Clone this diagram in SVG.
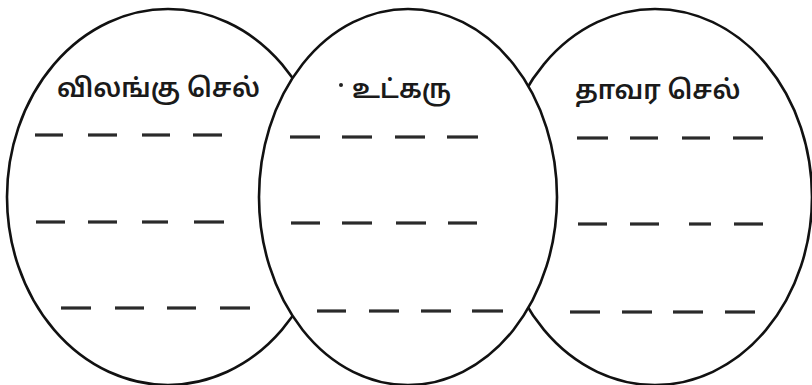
<svg xmlns="http://www.w3.org/2000/svg" width="812" height="385" viewBox="0 0 812 385">
<style>
.ell{fill:#fff;stroke:#111;stroke-width:2.6}
.lbl{font-family:"Noto Sans Tamil","Lohit Tamil","Noto Sans","DejaVu Sans",sans-serif;font-size:26px;font-weight:600;fill:#1a1a1a}
.dash{stroke:#2a2a2a;stroke-width:3.2;stroke-linecap:butt}
</style>
<rect width="812" height="385" fill="#fff"/>
<g id="animal-cell">
<ellipse class="ell" cx="168" cy="197" rx="161" ry="188"/>
<text class="lbl" x="57" y="97">விலங்கு செல்</text>
<g class="dash">
<line x1="35" y1="135" x2="63" y2="135"/><line x1="88" y1="135" x2="117" y2="135"/><line x1="142" y1="135" x2="170" y2="135"/><line x1="193" y1="135" x2="222" y2="135"/>
<line x1="36" y1="222" x2="65" y2="222"/><line x1="88" y1="222" x2="117" y2="222"/><line x1="142" y1="222" x2="168" y2="222"/><line x1="194" y1="222" x2="224" y2="222"/>
<line x1="61" y1="308" x2="91" y2="308"/><line x1="115" y1="308" x2="144" y2="308"/><line x1="167" y1="308" x2="196" y2="308"/><line x1="220" y1="308" x2="250" y2="308"/>
</g>
</g>
<g id="plant-cell">
<ellipse class="ell" cx="655" cy="197" rx="157" ry="188"/>
<text class="lbl" x="575" y="99">தாவர செல்</text>
<g class="dash">
<line x1="577" y1="138" x2="608" y2="138"/><line x1="630" y1="138" x2="658" y2="138"/><line x1="682" y1="138" x2="710" y2="138"/><line x1="733" y1="138" x2="763" y2="138"/>
<line x1="578" y1="224" x2="607" y2="224"/><line x1="630" y1="224" x2="659" y2="224"/><line x1="689" y1="224" x2="711" y2="224"/><line x1="734" y1="224" x2="763" y2="224"/>
<line x1="570" y1="312" x2="600" y2="312"/><line x1="622" y1="312" x2="652" y2="312"/><line x1="673" y1="312" x2="703" y2="312"/><line x1="725" y1="312" x2="755" y2="312"/>
</g>
</g>
<g id="nucleus">
<ellipse class="ell" cx="408" cy="197" rx="149" ry="188"/>
<circle cx="341" cy="85" r="2" fill="#222"/>
<text class="lbl" x="352" y="98">உட்கரு</text>
<g class="dash">
<line x1="290" y1="137" x2="320" y2="137"/><line x1="342" y1="137" x2="372" y2="137"/><line x1="395" y1="137" x2="425" y2="137"/><line x1="447" y1="137" x2="478" y2="137"/>
<line x1="291" y1="223" x2="320" y2="223"/><line x1="342" y1="223" x2="372" y2="223"/><line x1="396" y1="223" x2="426" y2="223"/><line x1="448" y1="223" x2="477" y2="223"/>
<line x1="317" y1="311" x2="346" y2="311"/><line x1="369" y1="311" x2="399" y2="311"/><line x1="421" y1="311" x2="451" y2="311"/><line x1="472" y1="311" x2="503" y2="311"/>
</g>
</g>
<g id="connectors"/>
</svg>
